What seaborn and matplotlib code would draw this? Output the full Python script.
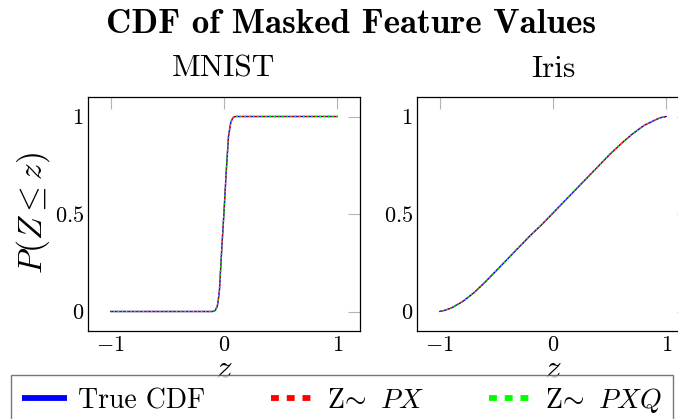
import matplotlib
matplotlib.use("Agg")
import matplotlib.pyplot as plt
import seaborn as sns

# ---- data -------------------------------------------------------------
mnist_z = [-1.0, -0.1, -0.08, -0.06, -0.05, -0.04, -0.02, 0.0, 0.02, 0.04,
           0.06, 0.08, 0.1, 1.0]
mnist_true = [0.0, 0.0, 0.004, 0.025, 0.06, 0.11, 0.32, 0.51, 0.72, 0.9,
              0.97, 0.995, 1.0, 1.0]
mnist_px = [0.0, 0.0, 0.004, 0.025, 0.06, 0.11, 0.32, 0.51, 0.72, 0.9,
            0.97, 0.995, 1.0, 1.0]
mnist_pxq = [0.0, 0.0, 0.004, 0.025, 0.06, 0.11, 0.32, 0.51, 0.72, 0.9,
             0.97, 0.995, 1.0, 1.0]

iris_z = [-1.0, -0.95, -0.9, -0.8, -0.7, -0.6, -0.5, -0.4, -0.3, -0.2, -0.1,
          0.0, 0.1, 0.2, 0.3, 0.4, 0.5, 0.6, 0.7, 0.8, 0.9, 0.95, 1.0]
iris_true = [0.0, 0.007, 0.017, 0.05, 0.095, 0.15, 0.21, 0.27, 0.33, 0.39,
             0.445, 0.505, 0.565, 0.625, 0.685, 0.745, 0.805, 0.86, 0.91,
             0.953, 0.982, 0.994, 1.0]
iris_px = [0.0, 0.007, 0.017, 0.05, 0.095, 0.15, 0.21, 0.27, 0.33, 0.39,
           0.445, 0.505, 0.565, 0.625, 0.685, 0.745, 0.805, 0.86, 0.91,
           0.953, 0.982, 0.994, 1.0]
iris_pxq = [0.0, 0.007, 0.017, 0.05, 0.095, 0.15, 0.21, 0.27, 0.33, 0.39,
            0.445, 0.505, 0.565, 0.625, 0.685, 0.745, 0.805, 0.86, 0.91,
            0.953, 0.982, 0.994, 1.0]

panel_titles = ["MNIST", "Iris"]
series_labels = ["True CDF", r"Z$\!\sim$ $PX$", r"Z$\!\sim$ $PXQ$"]
x_ticks = [-1, 0, 1]
x_tick_labels = [r"$-1$", r"$0$", r"$1$"]
y_ticks = [0, 0.5, 1]
y_tick_labels = [r"$0$", r"$0.5$", r"$1$"]

# ---- style ------------------------------------------------------------
sns.set_style("white")
plt.rcParams["font.family"] = ["cmr10", "DejaVu Serif"]
plt.rcParams["mathtext.fontset"] = "cm"
plt.rcParams["axes.unicode_minus"] = False
plt.rcParams["text.color"] = "black"
plt.rcParams["axes.labelcolor"] = "black"
plt.rcParams["xtick.labelcolor"] = "black"
plt.rcParams["ytick.labelcolor"] = "black"

W, H = 678, 419
fig = plt.figure(figsize=(W / 100, H / 100), dpi=100)


def fx(px):
    return px / W


def fy(py):
    return 1 - py / H


ax_left, ax_w = [88, 417], 272
ax_top, ax_bot = 97, 331
axes = [fig.add_axes([fx(l), fy(ax_bot), ax_w / W, (ax_bot - ax_top) / H])
        for l in ax_left]

panels = [(mnist_z, mnist_true, mnist_px, mnist_pxq),
          (iris_z, iris_true, iris_px, iris_pxq)]

for ax, (z, c_true, c_px, c_pxq), name in zip(axes, panels, panel_titles):
    sns.lineplot(x=z, y=c_true, ax=ax, color="#0000ff", lw=1.0,
                 estimator=None, sort=False, label=series_labels[0])
    sns.lineplot(x=z, y=c_px, ax=ax, color="#ff0000", lw=1.0,
                 linestyle=(0, (1.0, 1.0)),
                 estimator=None, sort=False, label=series_labels[1])
    sns.lineplot(x=z, y=c_pxq, ax=ax, color="#00ff00", lw=1.0,
                 linestyle=(1.0, (1.0, 2.0)),
                 estimator=None, sort=False, label=series_labels[2])
    ax.get_legend().remove()

    ax.set_xlim(-1.2, 1.2)
    ax.set_ylim(-0.1, 1.1)
    ax.set_xticks(x_ticks, labels=x_tick_labels)
    ax.set_yticks(y_ticks, labels=y_tick_labels)
    ax.tick_params(direction="in", length=8.5, width=0.8, color="#b4b4b4",
                   top=True, right=True, labelsize=16, pad=3)
    for sp in ax.spines.values():
        sp.set_color("black")
        sp.set_linewidth(0.9)
    ax.set_xlabel(r"$z$", fontsize=24, labelpad=0)
    ax.set_ylabel("")
    cx = (ax.get_position().x0 + ax.get_position().x1) / 2
    fig.text(cx, fy(76.7), name, ha="center", va="baseline", fontsize=22.5)

fig.text(fx(33), fy(213.5), r"$P(Z\leq z)$", rotation=90, ha="center",
         va="center", fontsize=24)

fig.text(fx(351), fy(33.3), "CDF of Masked Feature Values", ha="center",
         va="baseline", fontsize=25.2, family="cmb10")

handles, labels = axes[0].get_legend_handles_labels()
leg = fig.legend(handles, labels, loc="upper left",
                 bbox_to_anchor=(fx(11), fy(375)), ncol=3, fontsize=20,
                 handlelength=1.62, handletextpad=0.4, columnspacing=2.35,
                 borderpad=0.4, borderaxespad=0, frameon=True, fancybox=False)
leg.get_frame().set_edgecolor("#555555")
leg.get_frame().set_linewidth(1.0)
for ln in leg.get_lines():
    ln.set_linewidth(4.2)
    ln.set_solid_capstyle("butt")
    ln.set_dash_capstyle("butt")
leg.get_lines()[1].set_linestyle((0, (1.35, 1.35)))
leg.get_lines()[2].set_linestyle((0, (1.35, 1.35)))

fig.savefig("out.png", dpi=100)
